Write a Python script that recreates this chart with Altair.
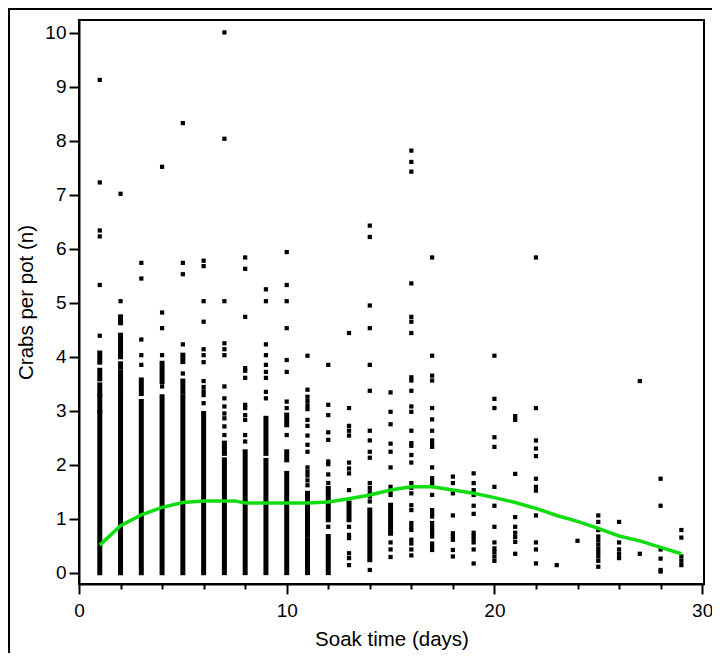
import altair as alt
import pandas as pd

# ---- scattered individual points (day, crabs per pot) ----
pt_day = (
    [1]*6 + [2]*2 + [3]*5 + [4]*5 + [5]*5 + [6]*12 + [7]*13 + [8]*12 + [9]*9 + [10]*9
)
pt_val = [
    9.13, 7.23, 6.34, 6.23, 5.33, 4.39,
    7.02, 5.03,
    5.74, 5.45, 4.32, 4.03, 3.85,
    7.52, 4.82, 4.53, 4.03, 3.45,
    8.33, 5.74, 5.53, 4.23, 3.69,
    5.78, 5.68, 5.03, 4.65, 4.14, 4.03, 3.90, 3.55, 3.44, 3.36, 3.29, 3.14,
    10.01, 8.04, 5.03, 4.25, 4.14, 4.03, 3.45, 3.23, 3.08, 2.95, 2.86, 2.71, 2.55,
    5.84, 5.63, 4.74, 3.79, 3.74, 3.61, 3.11, 3.05, 2.92, 2.83, 2.55, 2.43,
    5.25, 5.03, 4.23, 4.03, 3.85, 3.72, 3.61, 3.35, 3.23,
    5.94, 5.33, 5.03, 4.53, 3.94, 3.72, 3.17, 3.05, 2.55,
]
late_vals = {
    11: [4.02, 3.39, 3.26, 3.18, 3.10, 3.03, 2.83, 2.72, 2.54, 2.37, 2.24, 1.95, 1.87, 1.80, 1.71, 1.62],
    12: [3.85, 3.11, 2.92, 2.60, 2.46, 2.06, 2.01, 1.82, 1.66, 0.85],
    13: [4.44, 3.05, 2.72, 2.63, 2.54, 2.04, 1.93, 1.84, 1.53, 0.85, 0.70, 0.64, 0.36, 0.27, 0.14],
    14: [6.43, 6.22, 4.95, 4.53, 3.85, 3.37, 2.63, 2.45, 2.24, 2.13, 1.66, 1.57, 1.49, 1.41, 1.32, 0.05],
    15: [3.34, 2.98, 2.75, 2.39, 2.24, 1.95, 1.59, 1.50, 1.44, 0.56, 0.43, 0.29],
    16: [7.82, 7.61, 7.43, 5.36, 4.74, 4.65, 4.44, 3.62, 3.56, 3.37, 3.08, 2.98, 2.63, 2.40, 2.35,
         2.18, 2.04, 1.66, 1.57, 1.47, 1.25, 1.16, 0.92, 0.85, 0.79, 0.61, 0.54, 0.43, 0.32],
    17: [5.84, 4.02, 3.65, 3.56, 3.05, 2.84, 2.63, 2.45, 2.38, 2.33, 1.95, 1.75, 1.68, 1.62, 1.44,
         1.16, 1.10, 1.04, 0.92, 0.85, 0.79, 0.73, 0.67, 0.54, 0.48, 0.42],
    18: [1.78, 1.66, 1.47, 1.06, 0.73, 0.67, 0.61, 0.42, 0.30],
    19: [1.84, 1.66, 1.53, 1.44, 1.24, 1.09, 0.74, 0.68, 0.62, 0.56, 0.43, 0.17],
    20: [4.02, 3.22, 3.05, 2.51, 2.33, 1.59, 1.24, 0.85, 0.56, 0.45, 0.38, 0.30, 0.22],
    21: [2.90, 2.83, 1.83, 1.03, 0.85, 0.74, 0.66, 0.57, 0.35],
    22: [5.84, 3.05, 2.45, 2.30, 2.16, 1.74, 1.59, 1.52, 1.06, 0.56, 0.43, 0.17],
    23: [0.14],
    24: [0.59],
    25: [1.06, 0.94, 0.79, 0.67, 0.60, 0.52, 0.44, 0.37, 0.30, 0.22, 0.11],
    26: [0.94, 0.56, 0.43, 0.35, 0.27],
    27: [3.55, 0.35],
    28: [1.74, 1.24, 0.43, 0.26, 0.05, 0.02],
    29: [0.79, 0.65, 0.30, 0.22, 0.14],
}
for d, vals in late_vals.items():
    pt_day += [d]*len(vals)
    pt_val += vals

# ---- densely packed runs of points (day, low, high) ----
seg_day = [1, 1, 1, 1, 1,
           2, 2, 2, 2, 2, 2, 2,
           3, 3, 4, 4, 5, 5, 5, 6, 7, 7, 8, 9, 9,
           10, 10, 10, 11, 11, 12, 12, 12, 13, 14, 15]
seg_lo = [3.90, 3.59, 3.31, 3.00, 0.0,
          4.63, 4.14, 4.00, 3.81, 3.51, 3.32, 0.0,
          3.32, 0.0, 3.54, 0.0, 3.91, 3.35, 0.0, 0.0, 2.21, 0.0, 0.0, 2.21, 0.0,
          2.74, 2.09, 0.0, 0.70, 0.0, 1.38, 0.98, 0.0, 0.98, 0.24, 0.73]
seg_hi = [4.07, 3.75, 3.48, 3.27, 2.97,
          4.74, 4.40, 4.07, 3.87, 3.72, 3.48, 3.26,
          3.57, 3.17, 3.88, 3.26, 4.03, 3.55, 3.26, 2.95, 2.40, 2.09, 2.24, 2.86, 2.08,
          2.92, 2.24, 1.84, 1.47, 0.61, 1.56, 1.29, 0.67, 1.29, 1.16, 1.25]

# ---- smoothed trend ----
line_day = [1, 2, 3, 4, 5, 6, 7, 7.5, 8, 9, 10, 11, 12, 13, 14, 15, 16, 17, 18, 19, 20,
            21, 22, 23, 24, 25, 26, 27, 28, 29]
line_val = [0.51, 0.87, 1.07, 1.21, 1.30, 1.33, 1.33, 1.33, 1.29, 1.29, 1.29, 1.29, 1.31, 1.37,
            1.44, 1.53, 1.59, 1.59, 1.53, 1.47, 1.39, 1.30, 1.19, 1.06, 0.95, 0.82, 0.68,
            0.59, 0.47, 0.35]

x_ticks = list(range(0, 31))
y_ticks = [i / 4 for i in range(0, 41)]

pts = pd.DataFrame({"day": pt_day, "val": pt_val})
segs = pd.DataFrame({"day": seg_day, "lo": seg_lo, "hi": seg_hi})
trend = pd.DataFrame({"day": line_day, "val": line_val})

FONT = "Liberation Sans"
xscale = alt.Scale(domain=[0, 30.09], nice=False, zero=False)
yscale = alt.Scale(domain=[-0.21, 10.24], nice=False, zero=False)

x_axis = alt.Axis(
    values=x_ticks,
    format="d",
    labelExpr="datum.value % 10 === 0 ? datum.label : ''",
    tickSize={"condition": {"test": "datum.value % 10 === 0", "value": 10}, "value": 5},
    title="Soak time (days)",
    grid=False,
    labelFlush=False,
    labelOverlap=False,
    labelPadding=7,
    titlePadding=9,
)
y_axis = alt.Axis(
    values=y_ticks,
    format="d",
    labelExpr="datum.value % 1 === 0 ? datum.label : ''",
    tickSize={"condition": {"test": "datum.value % 1 === 0", "value": 10}, "value": 5},
    title="Crabs per pot (n)",
    grid=False,
    labelFlush=False,
    labelOverlap=False,
    labelPadding=3,
    titlePadding=8,
)

points = alt.Chart(pts).mark_square(size=18, color="black", opacity=1).encode(
    x=alt.X("day:Q", scale=xscale, axis=x_axis),
    y=alt.Y("val:Q", scale=yscale, axis=y_axis),
)

dense = alt.Chart(segs).mark_rule(color="black", strokeWidth=5, strokeCap="square").encode(
    x=alt.X("day:Q", scale=xscale),
    y=alt.Y("lo:Q", scale=yscale),
    y2="hi:Q",
)

smooth = alt.Chart(trend).mark_line(color="#10dc10", strokeWidth=3.5).encode(
    x=alt.X("day:Q", scale=xscale),
    y=alt.Y("val:Q", scale=yscale),
)

frame_top = alt.Chart(pts).mark_rule(color="black", strokeWidth=2).encode(
    x=alt.value(-71), x2=alt.value(720), y=alt.value(-11)
)
frame_left = alt.Chart(pts).mark_rule(color="black", strokeWidth=2).encode(
    x=alt.value(-70), y=alt.value(-12), y2=alt.value(700)
)

chart = alt.layer(dense, points, smooth, frame_top, frame_left).properties(
    width=625,
    height=564,
    autosize=alt.AutoSizeParams(type="none"),
    padding={"left": 71, "top": 12, "right": 8, "bottom": 69},
).configure_view(
    stroke="black", strokeWidth=2
).configure_axis(
    domainColor="black", domainWidth=2,
    tickColor="black", tickWidth=2,
    labelFont=FONT, labelFontSize=19, labelColor="black",
    titleFont=FONT, titleFontSize=20.5, titleFontWeight="normal", titleColor="black",
)

chart.save("out.html", embed_options={"renderer": "svg", "actions": False})
